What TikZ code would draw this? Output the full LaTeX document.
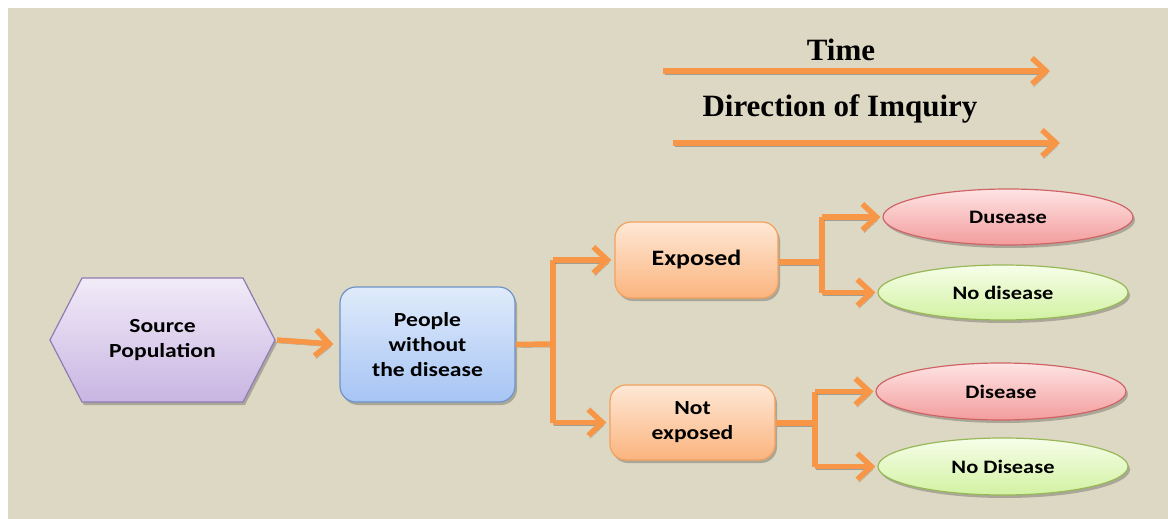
\documentclass[tikz,border=0pt]{standalone}
\usepackage{fontspec}
\setmainfont{Carlito}[FakeStretch=1.18]
\newfontfamily\headfont{Liberation Serif}
\usetikzlibrary{arrows.meta,shapes.geometric,shadows}
\definecolor{bg}{HTML}{DDD8C3}
\definecolor{arr}{HTML}{F79646}
\definecolor{lavtop}{HTML}{F1EBF8}
\definecolor{lavbot}{HTML}{C9B5E2}
\definecolor{lavline}{HTML}{8E7CB4}
\definecolor{bluetop}{HTML}{E0EBFB}
\definecolor{bluebot}{HTML}{A6C4F4}
\definecolor{blueline}{HTML}{6E94C8}
\definecolor{orgtop}{HTML}{FEE8D6}
\definecolor{orgbot}{HTML}{FBB47E}
\definecolor{orgline}{HTML}{F3A15E}
\definecolor{redtop}{HTML}{FEE4E4}
\definecolor{redbot}{HTML}{F39C9C}
\definecolor{redline}{HTML}{CF6466}
\definecolor{grntop}{HTML}{F6FEE9}
\definecolor{grnbot}{HTML}{D2F2A2}
\definecolor{grnline}{HTML}{98B858}
\tikzset{
  boxshadow/.style={drop shadow={opacity=0.35,shadow xshift=2pt,shadow yshift=-3pt,fill=black!70}},
  stagebox/.style={rectangle,rounded corners=16pt,align=center,font=\bfseries\fontsize{20}{25}\selectfont,
    line width=1.2pt,boxshadow},
  blueshade/.style={top color=bluetop,bottom color=bluebot,draw=blueline},
  orgshade/.style={top color=orgtop,bottom color=orgbot,draw=orgline},
  outcome/.style={ellipse,minimum width=250pt,minimum height=56pt,inner sep=0pt,
    font=\bfseries\fontsize{19}{23}\selectfont,line width=1.2pt,boxshadow},
  redshade/.style={top color=redtop,bottom color=redbot,draw=redline},
  grnshade/.style={top color=grntop,bottom color=grnbot,draw=grnline},
  conn/.style={draw=arr,line width=5.5pt,
    preaction={draw=black!60,opacity=0.5,transform canvas={xshift=1.5pt,yshift=-3pt}}},
  tip/.style={-{Straight Barb[length=14pt,width=26pt]}},
  heading/.style={font=\headfont\bfseries\fontsize{31}{36}\selectfont}
}
\begin{document}
\begin{tikzpicture}[x=1pt,y=-1pt]
\useasboundingbox (0,0) rectangle (1168,519);
\fill[white] (0,0) rectangle (1168,519);
\fill[bg] (8,8) rectangle (1168,519);

% time line and direction of inquiry
\node[heading] (time) at (841,50) {Time};
\node[heading] (dir) at (840,109) {Direction of Imquiry};
\coordinate (t0) at (663,71);
\coordinate (t1) at (1050,71);
\coordinate (d0) at (673,143);
\coordinate (d1) at (1060,143);
\draw[conn,tip] (t0) -- (t1);
\draw[conn,tip] (d0) -- (d1);

% source population (hexagon)
\path[top color=lavtop,bottom color=lavbot,draw=lavline,line width=1.2pt,boxshadow]
  (50,340) -- (82,278) -- (243,278) -- (275,340) -- (243,402) -- (82,402) -- cycle;
\node[align=center,font=\bfseries\fontsize{20}{25}\selectfont] (src) at (162.5,340) {Source\\Population};
\coordinate (srcE) at (277,340);

% stages
\node[stagebox,blueshade,minimum width=175pt,minimum height=115pt] (people) at (427.5,344.5)
  {People\\without\\the disease};
\node[stagebox,orgshade,minimum width=163pt,minimum height=76pt,font=\bfseries\fontsize{22}{26}\selectfont]
  (exposed) at (696.5,260) {Exposed};
\node[stagebox,orgshade,minimum width=165pt,minimum height=75pt] (notexp) at (692.5,422.5)
  {Not\\exposed};

% outcomes
\node[outcome,redshade] (dis1) at (1008,217) {Dusease};
\node[outcome,grnshade,minimum height=55pt] (nod1) at (1003,292.5) {No disease};
\node[outcome,redshade,minimum height=57pt] (dis2) at (1001,391.5) {Disease};
\node[outcome,grnshade,minimum height=57pt] (nod2) at (1003,466.5) {No Disease};

% branch junctions
\coordinate (j1) at (553,344);
\coordinate (j2) at (822,262);
\coordinate (j3) at (815,423);

% connectors
\draw[conn,tip,shorten >=6pt] (srcE) -- (people.west);

\draw[conn] (people.east) -- (j1);
\draw[conn] (j1 |- exposed.west) -- (j1 |- notexp.west);
\draw[conn,tip,shorten >=3pt] (j1 |- exposed.west) -- (exposed.west);
\draw[conn,tip,shorten >=3pt] (j1 |- notexp.west) -- (notexp.west);

\draw[conn] (exposed.east |- j2) -- (j2);
\draw[conn] (j2 |- dis1.west) -- (j2 |- nod1.west);
\draw[conn,tip,shorten >=2pt] (j2 |- dis1.west) -- (dis1.west);
\draw[conn,tip,shorten >=2pt] (j2 |- nod1.west) -- (nod1.west);

\draw[conn] (notexp.east |- j3) -- (j3);
\draw[conn] (j3 |- dis2.west) -- (j3 |- nod2.west);
\draw[conn,tip,shorten >=2pt] (j3 |- dis2.west) -- (dis2.west);
\draw[conn,tip,shorten >=2pt] (j3 |- nod2.west) -- (nod2.west);
\end{tikzpicture}
\end{document}
